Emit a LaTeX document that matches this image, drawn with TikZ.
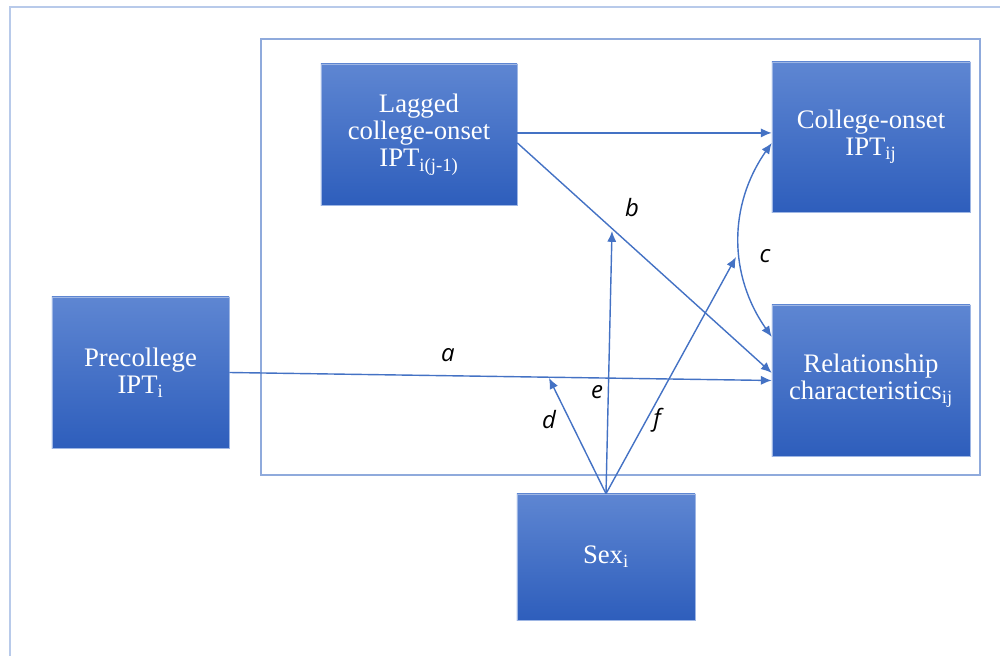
\documentclass[tikz,border=0pt]{standalone}
\usepackage{fontspec}
\setmainfont{Liberation Serif}
\newfontfamily\labelfont{Open Sans}
\usetikzlibrary{positioning, arrows.meta}

\definecolor{linkblue}{RGB}{68,114,196}
\definecolor{boxtop}{RGB}{94,134,210}
\definecolor{boxbottom}{RGB}{46,94,188}
\definecolor{framelight}{RGB}{184,202,234}
\definecolor{frameinner}{RGB}{143,170,220}

\begin{document}
\begin{tikzpicture}[
		x=0.025cm, y=-0.025cm,
		>={Latex[length=2.7mm, width=2.3mm]},
		box/.style={draw=boxtop!60!white, line width=0.4pt, top color=boxtop, bottom color=boxbottom, text=white, align=center, font=\fontsize{19}{19.5}\selectfont},
		arrow/.style={->, line width=1pt, draw=linkblue},
		path label/.style={font=\labelfont\itshape\fontsize{17}{19}\selectfont}
	]
	\useasboundingbox (0,0) rectangle (1000,656);

	% Frames
	\draw[framelight, line width=1pt] (10,656) -- (10,7) -- (1000,7);
	\draw[frameinner, line width=0.8pt] (261,39) rectangle (980,475);

	% Nodes
	\node[box, minimum width=4.9cm, minimum height=3.525cm] (lagged) at (419,134.5) {Lagged\\college-onset\\IPT\textsubscript{i(j-1)}};
	\node[box, minimum width=4.95cm, minimum height=3.75cm] (college) at (871,137) {College-onset\\IPT\textsubscript{ij}};
	\node[box, minimum width=4.95cm, minimum height=3.775cm] (rel) at (871,380.5) {Relationship\\characteristics\textsubscript{ij}};
	\node[box, minimum width=4.425cm, minimum height=3.775cm] (pre) at (140.5,372.5) {Precollege\\IPT\textsubscript{i}};
	\node[box, minimum width=4.45cm, minimum height=3.15cm] (sex) at (606,557) {Sex\textsubscript{i}};

	\coordinate (lagstart) at ([yshift=0.04cm]lagged.east);
	\coordinate (dend) at (549,378);
	\coordinate (eend) at (612,231);
	\coordinate (fend) at (736,257);

	% Connections
	\draw[arrow] (lagstart) -- (college.west |- lagstart);
	\draw[arrow] ([yshift=-0.21cm]lagged.east) -- ([yshift=0.19cm]rel.west);
	\draw[arrow] (pre.east) -- (rel.west);
	\draw[arrow, <->] ([yshift=-0.15cm]college.west) to[bend right=35] ([yshift=1.09cm]rel.west);

	\draw[arrow] (sex.north) -- (dend);
	\draw[arrow] (sex.north) -- (eend);
	\draw[arrow] (sex.north) -- (fend);

	% Labels
	\node[path label] (la) at (448,355) {a};
	\node[path label] (lb) at (632,208) {b};
	\node[path label] (lc) at (765,256) {c};
	\node[path label] (ld) at (549,420) {d};
	\node[path label] (le) at (597,392) {e};
	\node[path label] (lf) at (657,420) {f};

\end{tikzpicture}
\end{document}
